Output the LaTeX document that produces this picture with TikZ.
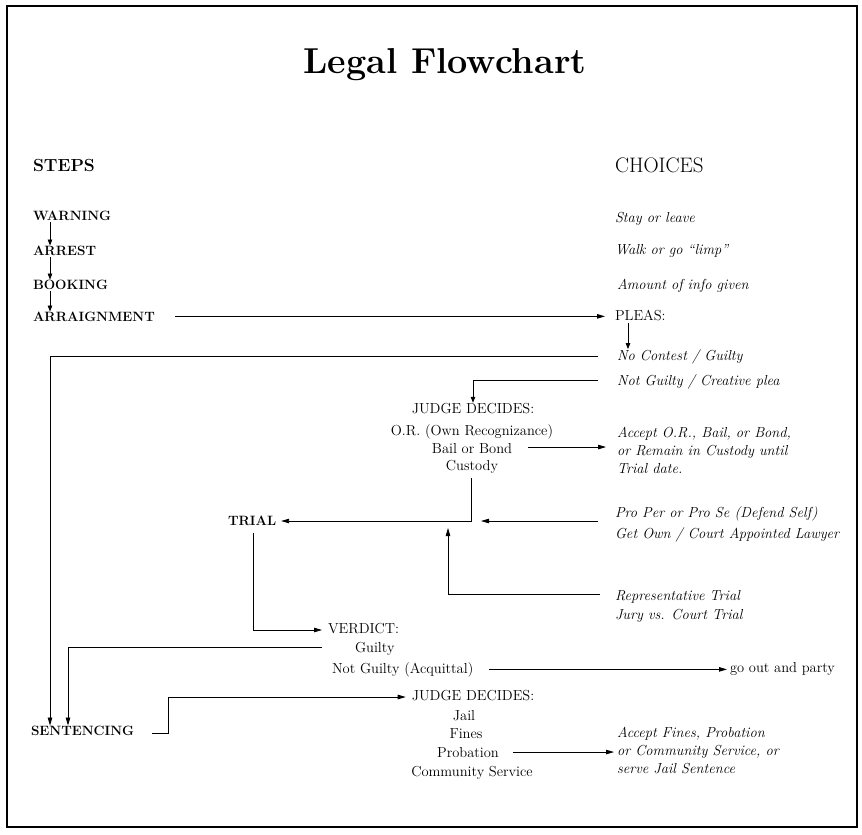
\documentclass[tikz,border=0pt]{standalone}
\usetikzlibrary{arrows.meta,calc}
\begin{document}
\begin{tikzpicture}[x=1pt,y=-1pt,
  every node/.style={inner sep=0pt, outer sep=0pt},
  body/.style={font=\fontsize{14.5}{17}\selectfont},
  stepnode/.style={font=\fontsize{13.5}{16}\selectfont\bfseries},
  choice/.style={font=\fontsize{14.5}{17}\selectfont\itshape},
  headb/.style={font=\fontsize{17.5}{21}\selectfont\bfseries},
  headr/.style={font=\fontsize{21}{25}\selectfont},
  link/.style={line width=0.8pt},
  arr/.style={link, -{Triangle[length=8pt,width=4.5pt]}},
  sarr/.style={link, -{Triangle[length=6pt,width=4.5pt]}}]
\useasboundingbox (0,0) rectangle (862,835);
\draw[line width=1.6pt] (7,6) rectangle (857,827);

% title and headings
\node[font=\fontsize{36}{40}\selectfont\bfseries, anchor=base] (title) at (445,73) {Legal Flowchart};
\node[headb, anchor=base west] (steps) at (33,171) {STEPS};
\node[headr, anchor=base west] (choices) at (615,172) {CHOICES};

% steps
\node[stepnode, anchor=base west] (warning) at (33,220) {WARNING};
\node[stepnode, anchor=base west] (arrest) at (33,255) {ARREST};
\node[stepnode, anchor=base west] (booking) at (33,289) {BOOKING};
\node[stepnode, anchor=base west] (arraign) at (33,321) {ARRAIGNMENT};
\node[stepnode, anchor=base west] (trial) at (228,525) {TRIAL};
\node[stepnode, anchor=base west] (sent) at (31,735) {SENTENCING};

% choices
\node[choice, anchor=base west] (stay) at (615,222) {Stay or leave};
\node[choice, anchor=base west] (walk) at (615,254) {Walk or go ``limp''};
\node[choice, anchor=base west] (amount) at (617,289) {Amount of info given};
\node[body, anchor=base west] (pleas) at (615,320) {PLEAS:};
\node[choice, anchor=base west] (nocontest) at (617,360) {No Contest / Guilty};
\node[choice, anchor=base west] (notguilty) at (617,385) {Not Guilty / Creative plea};
\node[choice, anchor=base west] (acceptor) at (617,437) {Accept O.R., Bail, or Bond,};
\node[choice, anchor=base west] (remain) at (617,455) {or Remain in Custody until};
\node[choice, anchor=base west] (trialdate) at (617,473) {Trial date.};
\node[choice, anchor=base west] (proper) at (615,517) {Pro Per or Pro Se (Defend Self)};
\node[choice, anchor=base west] (getown) at (615,538) {Get Own / Court Appointed Lawyer};
\node[choice, anchor=base west] (rep) at (615,600) {Representative Trial};
\node[choice, anchor=base west] (jury) at (615,619) {Jury vs. Court Trial};
\node[body, anchor=base west] (party) at (730,672) {go out and party};
\node[choice, anchor=base west] (acceptf) at (617,737) {Accept Fines, Probation};
\node[choice, anchor=base west] (orcomm) at (617,755) {or Community Service, or};
\node[choice, anchor=base west] (serve) at (617,773) {serve Jail Sentence};

% judge decides (bail)
\node[body, anchor=base] (judge1) at (473,413) {JUDGE DECIDES:};
\node[body, anchor=base] (orr) at (472,435) {O.R. (Own Recognizance)};
\node[body, anchor=base] (bail) at (472,453) {Bail or Bond};
\node[body, anchor=base] (custody) at (472,470) {Custody};

% verdict
\node[body, anchor=base west] (verdict) at (328,633) {VERDICT:};
\node[body, anchor=base west] (guilty) at (355,652) {Guilty};
\node[body, anchor=base west] (acquit) at (332,673) {Not Guilty (Acquittal)};

% judge decides (sentence)
\node[body, anchor=base] (judge2) at (473,700) {JUDGE DECIDES:};
\node[body, anchor=base] (jail) at (464,720) {Jail};
\node[body, anchor=base] (fines) at (466,738) {Fines};
\node[body, anchor=base] (probation) at (468,757) {Probation};
\node[body, anchor=base] (community) at (472,776) {Community Service};

% step arrows
\draw[sarr] (warning.south west) ++(17,2) coordinate (w1) -- (w1 |- arrest.north);
\draw[sarr] (arrest.south west) ++(17,2) coordinate (a1) -- (a1 |- booking.north);
\draw[sarr] (booking.south west) ++(17,2) coordinate (b1) -- (b1 |- arraign.north);

% connectors
\coordinate (arrS) at ($(arraign.east)+(20,0)$);
\coordinate (arrE) at ($(pleas.west)+(-10,0)$);
\draw[arr] (arrS) -- (arrS -| arrE);
\coordinate (plS) at ($(pleas.south west)+(13,3)$);
\draw[sarr] (plS) -- (plS |- nocontest.north);

\coordinate (ncS) at (598,356);
\coordinate (ncC) at (50,356);
\draw[arr] (ncS) -- (ncC) -- (ncC |- sent.north);

\coordinate (ngS) at (598,380);
\coordinate (ngC) at (473,380);
\draw[sarr] (ngS) -- (ngC) -- (ngC |- judge1.north);

\coordinate (bbS) at ($(bail.east)+(16,-1)$);
\coordinate (bbE) at (606,449);
\draw[arr] (bbS) -- (bbS -| bbE);

\coordinate (cuS) at (471,478);
\coordinate (cuC) at (471,521);
\coordinate (cuE) at ($(trial.east)+(5,0)$);
\draw[arr] (cuS) -- (cuC) -- (cuC -| cuE);

\coordinate (ppS) at (598,521);
\coordinate (ppE) at (481,521);
\draw[arr] (ppS) -- (ppE);

\coordinate (rpS) at (600,594);
\coordinate (rpC) at (448,594);
\coordinate (rpE) at (448,528);
\draw[arr] (rpS) -- (rpC) -- (rpE);

\coordinate (trS) at (253,533);
\coordinate (trC) at (253,630);
\coordinate (trE) at ($(verdict.west)+(-6,0)$);
\draw[arr] (trS) -- (trC) -- (trC -| trE);

\coordinate (guS) at (322,647);
\coordinate (guC) at (68,647);
\draw[arr] (guS) -- (guC) -- (guC |- sent.north);

\coordinate (aqS) at ($(acquit.east)+(16,0)$);
\coordinate (aqE) at ($(party.west)+(-3,0)$);
\draw[arr] (aqS) -- (aqS -| aqE);

\coordinate (seS) at (152,733);
\coordinate (seA) at (168,733);
\coordinate (seB) at (168,697);
\coordinate (seE) at ($(judge2.west)+(-6,0)$);
\draw[arr] (seS) -- (seA) -- (seB) -- (seB -| seE);

\coordinate (prS) at ($(probation.east)+(14,0)$);
\coordinate (prE) at (614,752);
\draw[arr] (prS) -- (prS -| prE);
\end{tikzpicture}
\end{document}
